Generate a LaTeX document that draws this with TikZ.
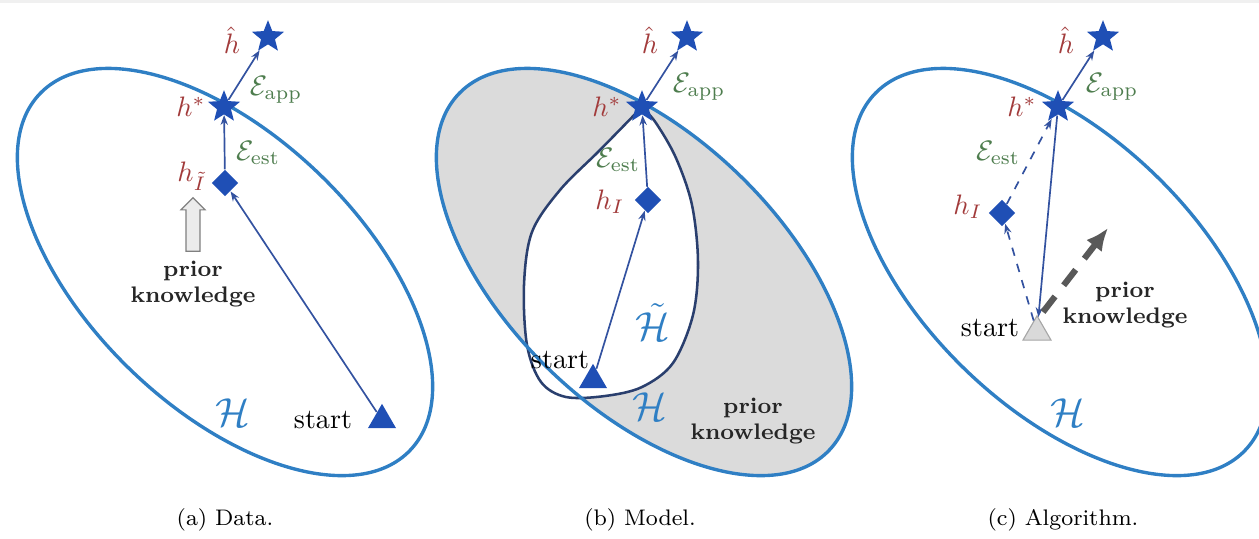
\documentclass[tikz,border=0pt]{standalone}
\usepackage{amsmath,amssymb}
\usepackage{xcolor}
\usepackage{tikz}
\usetikzlibrary{shapes.geometric,shapes.arrows,arrows.meta}
\definecolor{hblue}{HTML}{2F7FC4}
\definecolor{nblue}{HTML}{1F4FB5}
\definecolor{lblue}{HTML}{3352A0}
\definecolor{hred}{HTML}{A23B3B}
\definecolor{egreen}{HTML}{4E7D4E}
\definecolor{navy}{HTML}{2A3F6E}
\begin{document}
\begin{tikzpicture}[x=0.0125cm,y=-0.0125cm,
  star5/.style={star,star points=5,star point ratio=2.3,fill=nblue,inner sep=0pt,minimum size=12pt},
  dia/.style={diamond,fill=nblue,inner sep=0pt,minimum size=9.5pt},
  tri/.style={regular polygon,regular polygon sides=3,fill=nblue,inner sep=0pt,minimum size=11.5pt},
  lab/.style={text=hred},
  errlab/.style={text=egreen},
  hyp/.style={text=hblue,font=\Large},
  pk/.style={font=\footnotesize\bfseries,align=center,inner sep=0pt,text=black!85},
  con/.style={lblue,line width=0.6pt,-{Stealth[length=3.5pt,width=2.6pt]}},
  ell/.style={hblue,line width=1.2pt},
  capt/.style={font=\footnotesize}]
        \useasboundingbox (0,0) rectangle (1259,538);
        \fill[gray!12] (0,0) rectangle (1259,3);

        %Data
        \coordinate (ea) at (225,272);
        \draw[ell,rotate around={-44:(ea)}] (ea) ellipse [x radius=257,y radius=136];
        \node[star5] (a1) at (268,37){};
        \node[star5] (a2) at (224,107){};
        \node[dia] (a3) at (225,183){};
        \node[tri] (a4) at (382,420){};
        \draw[con] (a4)--(a3);
        \draw[con] (a3)--(a2);
        \draw[con] (a2)--(a1);
        \node[lab] (a5) at (232,40){$\hat{h}$};
        \node[lab] (a6) at (191,107){$h^{*}$};
        \node[lab] (a7) at (192,176){$h_{\tilde{I}}$};
        \node[errlab] (a8) at (276,90){$\mathcal{E}_{\text{app}}$};
        \node[errlab] (a9) at (258,153){$\mathcal{E}_{\text{est}}$};
        \node[hyp] (a10) at (233,413){$\mathcal{H}$};
        \node (a11) at (323,420){start};
        \node[single arrow,rotate=90,draw=gray,fill=gray!15,minimum height=19pt,minimum width=8.5pt,single arrow head extend=1.8pt,inner sep=2.3pt] (a12) at (193,228){};
        \node[pk] (a13) at (193,284){prior\\knowledge};
        \node[capt] (a14) at (225,520){(a) Data.};

        %Model
        \coordinate (eb) at (644,272);
        \coordinate (bs) at (642,107);
        \fill[gray!28,rotate around={-44:(eb)}] (eb) ellipse [x radius=257,y radius=136];
        \draw[navy,line width=0.9pt,fill=white] plot[smooth,tension=0.55] coordinates
        {(bs) (600,150) (560,190) (532,232) (524,285) (527,345) (541,382) (566,397) (605,396) (642,387) (673,363) (693,315) (698,262) (692,205) (676,158) (656,123) (bs)};
        \draw[ell,rotate around={-44:(eb)}] (eb) ellipse [x radius=257,y radius=136];
        \node[star5] (b1) at (687,37){};
        \node[star5] (b2) at (bs){};
        \node[dia] (b3) at (648,200){};
        \node[tri] (b4) at (593,380){};
        \draw[con] (b4)--(b3);
        \draw[con] (b3)--(b2);
        \draw[con] (b2)--(b1);
        \node[lab] (b5) at (650,40){$\hat{h}$};
        \node[lab] (b6) at (607,107){$h^{*}$};
        \node[lab] (b7) at (610,202){$h_{I}$};
        \node[errlab] (b8) at (699,87){$\mathcal{E}_{\text{app}}$};
        \node[errlab] (b9) at (618,160){$\mathcal{E}_{\text{est}}$};
        \node[hyp] (b10) at (653,322){$\tilde{\mathcal{H}}$};
        \node (b11) at (560,360){start};
        \node[hyp] (b12) at (650,407){$\mathcal{H}$};
        \node[pk] (b13) at (753,421){prior\\knowledge};
        \node[capt] (b14) at (640,520){(b) Model.};

        %Algorithm
        \coordinate (ec) at (1060,272);
        \draw[ell,rotate around={-44:(ec)}] (ec) ellipse [x radius=257,y radius=136];
        \node[star5] (c1) at (1103,37){};
        \node[star5] (c2) at (1058,107){};
        \node[dia] (c3) at (1002,213){};
        \node[tri,fill=gray!30,draw=gray!70] (c4) at (1037,332){};
        \draw[con,dashed] (c4)--(c3);
        \draw[con,dashed] (c3)--(c2);
        \draw[con] (c2)--(c4);
        \draw[con] (c2)--(c1);
        \coordinate (c5) at (1043,312);
        \coordinate (c6) at (1108,228);
        \draw[black!65,line width=2.2pt,dash pattern=on 7pt off 5pt,-{Latex[length=8pt,width=7pt]}] (c5)--(c6);
        \node[lab] (c7) at (1066,40){$\hat{h}$};
        \node[lab] (c8) at (1022,107){$h^{*}$};
        \node[lab] (c9) at (968,207){$h_{I}$};
        \node[errlab] (c10) at (1112,87){$\mathcal{E}_{\text{app}}$};
        \node[errlab] (c11) at (998,153){$\mathcal{E}_{\text{est}}$};
        \node (c12) at (990,328){start};
        \node[pk] (c13) at (1125,305){prior\\knowledge};
        \node[hyp] (c14) at (1068,413){$\mathcal{H}$};
        \node[capt] (c15) at (1063,520){(c) Algorithm.};
\end{tikzpicture}
\end{document}
